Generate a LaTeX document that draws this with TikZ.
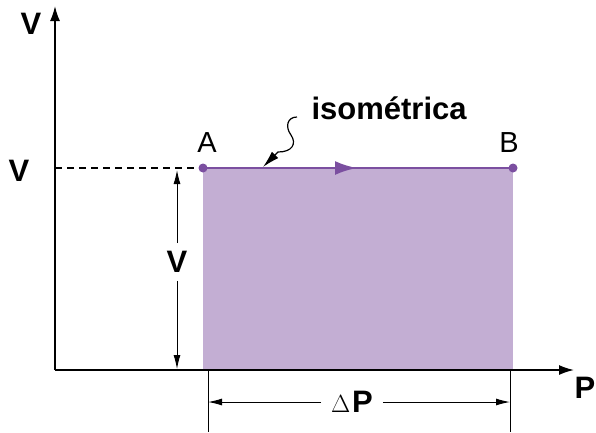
\documentclass[tikz,border=0pt]{standalone}
\usepackage{fontspec}
\setmainfont{Liberation Sans}
\usetikzlibrary{arrows.meta}
\definecolor{isofill}{HTML}{C3AED3}
\definecolor{isoline}{HTML}{7B4FA0}
\begin{document}
\begin{tikzpicture}[x=1pt,y=-1pt,
  axis/.style={line width=1.6pt, -{Latex[length=15pt,width=10pt]}},
  dimarrow/.style={line width=1pt, -{Latex[length=14pt,width=7pt]}},
  bold/.style={font=\fontsize{31}{34}\selectfont\bfseries},
  plain/.style={font=\fontsize{29}{32}\selectfont}]
  \useasboundingbox (0,0) rectangle (596,432);
  % points of the process
  \coordinate (O) at (55,370);
  \coordinate (A) at (203,168);
  \coordinate (B) at (513,168);
  \coordinate (Vtop) at (55,6);
  \coordinate (Pend) at (574,370);
  % work area
  \fill[isofill] (A) rectangle (513,370);
  % axes
  \draw[axis] (O) -- (Vtop);
  \draw[axis] (O) -- (Pend);
  \node[bold] (lV) at (31,24) {V};
  \node[bold] (lP) at (585,388) {P};
  % dashed level
  \coordinate (Vlev) at (55,168);
  \draw[line width=1.3pt, dash pattern=on 7pt off 5pt] (Vlev) -- (A);
  \node[bold] (lVlev) at (19,171) {V};
  % isometric line A -> B
  \draw[isoline, line width=2.8pt] (A) -- (B);
  \draw[isoline, line width=2.8pt, -{Latex[length=22pt,width=14pt]}] (A) -- (357,168);
  \fill[isoline] (A) circle (4.5pt);
  \fill[isoline] (B) circle (4.5pt);
  \node[plain] (lA) at (207,143) {A};
  \node[plain] (lB) at (509,143) {B};
  % label with squiggle
  \node[bold, anchor=west] (iso) at (308,108) {isométrica};
  \coordinate (hit) at (263,167);
  \draw[line width=1.2pt, -{Latex[length=17pt,width=9pt]}]
    (297,117) .. controls (287,117) and (285,127) .. (291,135)
    .. controls (297,144) and (292,152) .. (278,152) -- (hit);
  % vertical dimension
  \coordinate (vt) at (177,170);
  \coordinate (vb) at (177,369);
  \node[bold, inner ysep=8pt] (dV) at (177,262) {V};
  \draw[dimarrow] (dV) -- (vt);
  \draw[dimarrow] (dV) -- (vb);
  % horizontal dimension
  \coordinate (e1t) at (208,370);
  \coordinate (e1b) at (208,432);
  \coordinate (e2t) at (510,370);
  \coordinate (e2b) at (510,432);
  \draw[line width=1pt] (e1t) -- (e1b);
  \draw[line width=1pt] (e2t) -- (e2b);
  \node[inner xsep=10pt] (dP) at (352,402) {{\fontsize{24}{28}\selectfont$\Delta$}\,{\fontsize{31}{34}\selectfont\bfseries P}};
  \coordinate (h1) at (208,402);
  \coordinate (h2) at (510,402);
  \draw[dimarrow] (dP) -- (h1);
  \draw[dimarrow] (dP) -- (h2);
\end{tikzpicture}
\end{document}
